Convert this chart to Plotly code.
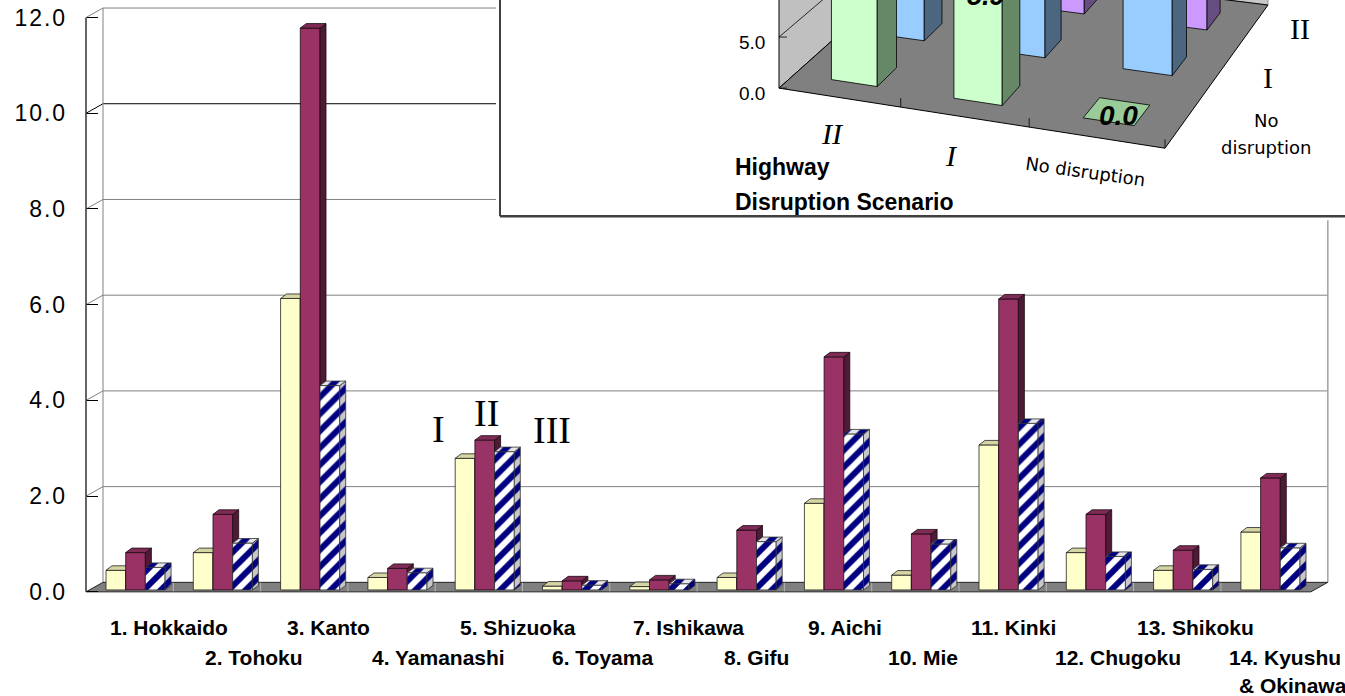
import numpy as np
import plotly.graph_objects as go

# ---------------- data ----------------
regions = ["1. Hokkaido", "2. Tohoku", "3. Kanto", "4. Yamanashi", "5. Shizuoka",
           "6. Toyama", "7. Ishikawa", "8. Gifu", "9. Aichi", "10. Mie",
           "11. Kinki", "12. Chugoku", "13. Shikoku", "14. Kyushu"]
region_line2 = {13: "& Okinawa"}
series_labels = ["I", "II", "III"]
scenario_I = [0.41, 0.78, 6.09, 0.26, 2.75, 0.08, 0.07, 0.26, 1.81, 0.31, 3.03, 0.78, 0.41, 1.21]
scenario_II = [0.78, 1.58, 11.74, 0.45, 3.13, 0.19, 0.21, 1.25, 4.87, 1.17, 6.08, 1.58, 0.83, 2.34]
scenario_III = [0.47, 0.98, 4.27, 0.36, 2.89, 0.10, 0.13, 1.01, 3.26, 0.96, 3.48, 0.70, 0.43, 0.88]
y_ticks = [0, 2, 4, 6, 8, 10, 12]

# inset (3-D chart, top part cut off in the picture)
inset_highway = ["II", "I", "No disruption"]          # front axis
inset_depth = ["No disruption", "I", "II"]            # depth axis, front -> back
inset_row_nd = [10.5, 10.0, 0.0]
inset_row_i = [11.5, 11.5, 11.0]
inset_row_ii = [13.0, 13.0, 12.5]
inset_ticks = [0, 5]
inset_label_I = "5.9"
inset_label_nd = "0.0"

# ---------------- geometry ----------------
W, H = 1345, 696            # reference frame (pixels)
FIG_H = 704                 # page is photographed 704 px tall and fitted to 696
X0PX, PXX = 86.0, 87.3      # pixel of category 0 start, pixels per category
Y0PX, PXY = 591.0, 47.79    # pixel of value 0 (front), pixels per unit
xl_px, xr_px, yt_px, yb_px = 84, 1331, 5, 597
xrange_ = [(xl_px - X0PX) / PXX, (xr_px - X0PX) / PXX]
yrange_ = [(Y0PX - yb_px) / PXY, (Y0PX - yt_px) / PXY]
DX, DY = 17 / PXX, 9.5 / PXY      # wall depth
XF = 14.03                        # floor front right end
BW = 19.7 / PXX
OFF = [20 / PXX, 39.7 / PXX, 59.4 / PXX]
BDX, BDY = 6 / PXX, 4.5 / PXY     # bar depth
BASE = 0.04

def px(x):
    return x / W

def py(y):
    return 1 - y / H

fig = go.Figure()

def poly(xs, ys, fill, line="black", lw=0.8, pattern=None, xa="x", ya="y"):
    kw = {}
    if pattern is not None:
        kw["fillpattern"] = dict(shape="/", fgcolor=pattern, bgcolor=fill,
                                 size=12, solidity=0.5, fillmode="replace")
    fig.add_trace(go.Scatter(x=xs, y=ys, mode="lines", fill="toself", fillcolor=fill,
                             line=dict(color=line, width=lw), xaxis=xa, yaxis=ya,
                             hoverinfo="skip", showlegend=False, **kw))

def seg(xs, ys, color, lw=1, xa="x", ya="y"):
    fig.add_trace(go.Scatter(x=xs, y=ys, mode="lines", line=dict(color=color, width=lw),
                             xaxis=xa, yaxis=ya, hoverinfo="skip", showlegend=False))

# ---------- main chart: walls, gridlines ----------
for v in y_ticks[1:]:
    c = "black" if v == 10 else "#808080"
    seg([0, DX, XF + DX], [v, v + DY, v + DY], c, 1)
seg([DX, DX], [DY, y_ticks[-1] + DY], "#808080", 1)
seg([XF + DX, XF + DX], [DY, y_ticks[-1] + DY], "#a0a0a0", 1.5)

# floor
poly([0, XF, XF + DX, DX, 0], [0, 0, DY, DY, 0], "#808080", "#222222", 1)
tx, ty = [], []
for k in range(1, len(regions)):
    tx += [k, k, None]
    ty += [0.01, DY - 0.01, None]
seg(tx, ty, "#b4b4b4", 1)

# bars
series = [scenario_I, scenario_II, scenario_III]
styles = [
    dict(front="#FFFFCC", top="#D6D6A4", side="#A3A37F", pat=None, line="#222222"),
    dict(front="#993366", top="#7F2B56", side="#4F1A35", pat=None, line="#1a0a12"),
    dict(front="#FFFFFF", top="#E6E6E6", side="#C8C8C8", pat="#000080", line="#333333"),
]
for s, vals in enumerate(series):
    st = styles[s]
    fxs, fys, txs, tys, sxs, sys_ = [], [], [], [], [], []
    for i, v in enumerate(vals):
        x0 = i + OFF[s]
        x1 = x0 + BW
        b, t = BASE, BASE + v
        fxs += [x0, x1, x1, x0, x0, None]
        fys += [b, b, t, t, b, None]
        txs += [x0, x1, x1 + BDX, x0 + BDX, x0, None]
        tys += [t, t, t + BDY, t + BDY, t, None]
        sxs += [x1, x1 + BDX, x1 + BDX, x1, x1, None]
        sys_ += [b, b + BDY, t + BDY, t, b, None]
    poly(fxs, fys, st["front"], st["line"], 0.8, st["pat"])
    poly(sxs, sys_, st["side"], st["line"], 0.8, st["pat"])
    poly(txs, tys, st["top"], st["line"], 0.8, st["pat"])

# front value axis line
seg([0, 0], [0, y_ticks[-1]], "black", 1.2)

annotations = []
# category labels (two staggered rows)
nudge = [-22, -14, -19, -22, -21, -16, -22, -19, -22, -29, -34, -37, -42, -38]
for i, name in enumerate(regions):
    xc = X0PX + (i + 0.5) * PXX + nudge[i]
    yc = 627 if i % 2 == 0 else 657
    annotations.append(dict(x=px(xc), y=py(yc), xref="paper", yref="paper", text=name,
                            showarrow=False, xanchor="left", yanchor="middle",
                            font=dict(family="Liberation Sans, Arial", size=21,
                                      color="black", weight="bold")))
    if i in region_line2:
        annotations.append(dict(x=px(xc + 10), y=py(685), xref="paper", yref="paper",
                                text=region_line2[i], showarrow=False, xanchor="left",
                                yanchor="middle",
                                font=dict(family="Liberation Sans, Arial", size=21,
                                          color="black", weight="bold")))
# series markers I II III
for lab, (xc, yc) in zip(series_labels, [(439, 428), (486.5, 412), (552, 429)]):
    annotations.append(dict(x=px(xc), y=py(yc), xref="paper", yref="paper", text=lab,
                            showarrow=False, xanchor="center", yanchor="middle",
                            font=dict(family="Liberation Serif, Times New Roman", size=38,
                                      color="black")))

# ---------- inset ----------
IX0, IY0 = 496, 220   # inset axis area (pixels): x 496..1345, y 0..220
src = [(0, 0), (3, 0), (3, 3), (0, 3)]
dst = [(779, 88), (1165, 148), (1268, 5), (920, -38)]
A, bb = [], []
for (u, w), (X, Y) in zip(src, dst):
    A.append([u, w, 1, 0, 0, 0, -u * X, -w * X]); bb.append(X)
    A.append([0, 0, 0, u, w, 1, -u * Y, -w * Y]); bb.append(Y)
Hm = np.append(np.linalg.solve(np.array(A, float), np.array(bb, float)), 1).reshape(3, 3)
KV = 10.2  # pixels per unit at the front-left corner

def proj(u, w, h=0.0):
    v = Hm @ np.array([u, w, 1.0])
    return v[0] / v[2], v[1] / v[2] - h * KV / v[2]

def ipoly(pts, fill, line="black", lw=0.8):
    xs = [p[0] for p in pts] + [pts[0][0]]
    ys = [p[1] for p in pts] + [pts[0][1]]
    poly(xs, ys, fill, line, lw, None, "x2", "y2")

# white background
ipoly([(500, 0), (1345, 0), (1345, 216), (500, 216)], "white", "white", 0)
HT = 40
# walls
ipoly([proj(0, 0, 0), proj(0, 3, 0), proj(0, 3, HT), proj(0, 0, HT)], "#C0C0C0", "black", 1)
ipoly([proj(0, 3, 0), proj(3, 3, 0), proj(3, 3, HT), proj(0, 3, HT)], "#C8C8C8", "#808080", 0.8)
for v in [5, 10, 15, 20]:
    pts = [proj(0, 0, v), proj(0, 3, v), proj(3, 3, v)]
    seg([p[0] for p in pts], [p[1] for p in pts], "black", 0.8, "x2", "y2")
# floor
ipoly([proj(0, 0), proj(3, 0), proj(3, 3), proj(0, 3)], "#808080", "black", 1)
for k in [1, 2, 3]:
    a = proj(k, 0, 0)
    seg([a[0], a[0]], [a[1], a[1] - 9], "black", 0.8, "x2", "y2")
for v in inset_ticks:
    a = proj(0, 0, v)
    seg([a[0], a[0] + 8], [a[1], a[1]], "black", 0.8, "x2", "y2")

rows = [inset_row_nd, inset_row_i, inset_row_ii]
row_cols = [
    dict(front="#CCFFCC", side="#668866", top="#99CC99"),
    dict(front="#99CCFF", side="#4D6680", top="#7AA3CC"),
    dict(front="#CC99FF", side="#664D80", top="#A37ACC"),
]
for r in [2, 1, 0]:
    cols = row_cols[r]
    for c, hval in enumerate(rows[r]):
        u0, u1 = c + 0.31, c + 0.69
        w0, w1 = r + 0.3, r + 0.7
        if hval > 0:
            ipoly([proj(u0, w0, 0), proj(u1, w0, 0), proj(u1, w0, hval), proj(u0, w0, hval)],
                  cols["front"])
            ipoly([proj(u1, w0, 0), proj(u1, w1, 0), proj(u1, w1, hval), proj(u1, w0, hval)],
                  cols["side"])
        ipoly([proj(u0, w0, hval), proj(u1, w0, hval), proj(u1, w1, hval), proj(u0, w1, hval)],
              cols["top"])

# inset frame
seg([500, 500], [0, 216], "black", 1.5, "x2", "y2")
seg([500, 1345], [216, 216], "#404040", 2.5, "x2", "y2")

sans = "Liberation Sans, Arial"
dj = "DejaVu Sans, Verdana"
serif = "Liberation Serif, Times New Roman"
for v in inset_ticks:
    a = proj(0, 0, v)
    annotations.append(dict(x=px(767), y=py(a[1] + 5), xref="paper", yref="paper",
                            text=f"{v:.1f}", showarrow=False, xanchor="right", yanchor="middle",
                            font=dict(family=sans, size=19, color="black")))
annotations += [
    dict(x=px(986), y=py(13), text=inset_label_I, xanchor="center", yanchor="bottom",
         font=dict(family=sans, size=27, color="black", weight="bold", style="italic")),
    dict(x=px(1118), y=py(115), text=inset_label_nd, xanchor="center", yanchor="middle",
         font=dict(family=sans, size=28, color="black", weight="bold", style="italic")),
    dict(x=px(833), y=py(133), text=inset_highway[0], xanchor="center", yanchor="middle",
         font=dict(family=serif, size=30, color="black", style="italic")),
    dict(x=px(951), y=py(155), text=inset_highway[1], xanchor="center", yanchor="middle",
         font=dict(family=serif, size=30, color="black", style="italic")),
    dict(x=px(1085), y=py(171), text=inset_highway[2], xanchor="center", yanchor="middle",
         textangle=8, font=dict(family=dj, size=18, color="black")),
    dict(x=px(733), y=py(167), text="Highway", xanchor="left", yanchor="middle",
         font=dict(family=sans, size=23, color="black", weight="bold")),
    dict(x=px(733), y=py(202), text="Disruption Scenario", xanchor="left", yanchor="middle",
         font=dict(family=sans, size=23, color="black", weight="bold")),
    dict(x=px(1266), y=py(120), text="No", xanchor="center", yanchor="middle",
         font=dict(family=dj, size=18, color="black")),
    dict(x=px(1266), y=py(147), text="disruption", xanchor="center", yanchor="middle",
         font=dict(family=dj, size=18, color="black")),
    dict(x=px(1268), y=py(77), text=inset_depth[1], xanchor="center", yanchor="middle",
         font=dict(family=serif, size=30, color="black")),
    dict(x=px(1300), y=py(28), text=inset_depth[2], xanchor="center", yanchor="middle",
         font=dict(family=serif, size=30, color="black")),
]
for a in annotations:
    a.setdefault("xref", "paper")
    a.setdefault("yref", "paper")
    a.setdefault("showarrow", False)

HS = "\u200a"
tick_text = [HS.join(f"{v:.1f}") for v in y_ticks]

fig.update_layout(
    width=W, height=FIG_H, autosize=False,
    margin=dict(l=0, r=0, t=0, b=0),
    paper_bgcolor="white", plot_bgcolor="white",
    showlegend=False, hovermode=False,
    xaxis=dict(domain=[xl_px / W, xr_px / W], range=xrange_, visible=False, fixedrange=True),
    yaxis=dict(domain=[1 - yb_px / H, 1 - yt_px / H], range=yrange_,
               anchor="free", position=X0PX / W,
               showgrid=False, zeroline=False, showline=False,
               ticks="inside", ticklen=11, tickwidth=1, tickcolor="black",
               tickvals=y_ticks, ticktext=tick_text,
               ticklabelstandoff=21,
               tickfont=dict(family="Liberation Sans, Arial", size=23, color="black"),
               fixedrange=True),
    xaxis2=dict(domain=[IX0 / W, 1], range=[IX0, W], visible=False, anchor="y2",
                fixedrange=True),
    yaxis2=dict(domain=[1 - IY0 / H, 1], range=[IY0, 0], visible=False, anchor="x2",
                fixedrange=True),
    annotations=annotations,
)
fig.write_html(
    "out.html",
    config={"responsive": False, "displayModeBar": False},
    post_script="document.body.style.margin='0px';"
                "document.documentElement.style.overflow='hidden';"
                "document.body.style.overflow='hidden';",
)
